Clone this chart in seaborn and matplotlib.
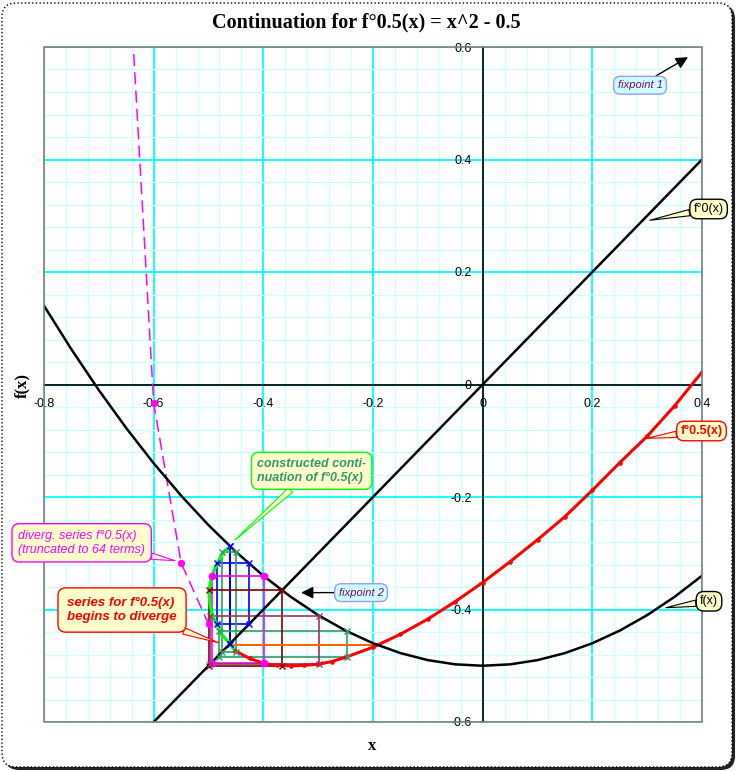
import matplotlib
matplotlib.use("Agg")
import matplotlib.pyplot as plt
from matplotlib.patches import FancyBboxPatch, Rectangle
from matplotlib.transforms import IdentityTransform
import numpy as np
import seaborn as sns

fx_x = [-0.80, -0.75, -0.70, -0.65, -0.60, -0.55, -0.50, -0.45, -0.40, -0.35, -0.30, -0.25,
        -0.20, -0.15, -0.10, -0.05, 0.00, 0.05, 0.10, 0.15, 0.20, 0.25, 0.30, 0.35, 0.40]
fx_y = [0.14, 0.0625, -0.01, -0.0775, -0.14, -0.1975, -0.25, -0.2975, -0.34, -0.3775, -0.41, -0.4375,
        -0.46, -0.4775, -0.49, -0.4975, -0.50, -0.4975, -0.49, -0.4775, -0.46, -0.4375, -0.41, -0.3775, -0.34]

# f°0(x) = x
ident_x = [-0.6, 0.4]
ident_y = [-0.6, 0.4]

# f°0.5(x) series values
half_x = [-0.4517, -0.425, -0.40, -0.375, -0.35, -0.325, -0.30, -0.275, -0.25, -0.20, -0.15, -0.10,
          -0.05, 0.00, 0.05, 0.10, 0.15, 0.20, 0.25, 0.30, 0.35, 0.40]
half_y = [-0.4732, -0.487, -0.4956, -0.4995, -0.5, -0.4992, -0.4974, -0.4925, -0.485, -0.467, -0.444, -0.417,
          -0.386, -0.352, -0.315, -0.276, -0.235, -0.188, -0.139, -0.092, -0.038, 0.022]

# constructed continuation (parametric, top to bottom)
cont_x = [-0.4608, -0.473, -0.485, -0.4941, -0.4991, -0.4972, -0.493, -0.485, -0.4759, -0.4608, -0.4517]
cont_y = [-0.2884, -0.2983, -0.3196, -0.3417, -0.3662, -0.3911, -0.4107, -0.4267, -0.4444, -0.4604, -0.4732]

# divergent series truncated to 64 terms
div_x = [-0.65, -0.60, -0.55, -0.50]
div_y = [0.82, -0.033, -0.317, -0.426]

# construction rectangles
rect_left = [-0.4608, -0.485, -0.4756, -0.481, -0.4942, -0.50, -0.4974, -0.463]
rect_right = [-0.4608, -0.4262, -0.4498, -0.248, -0.3988, -0.366, -0.2985, -0.193]
rect_bottom = [-0.4608, -0.4262, -0.4756, -0.485, -0.4956, -0.50, -0.4974, -0.463]
rect_top = [-0.2877, -0.318, -0.2977, -0.4385, -0.341, -0.366, -0.4109, -0.463]
rect_colors = ['#0000FF', '#0000FF', '#339966', '#339966', '#FF00FF', '#800000', '#993366', '#FF6600']
rect_markers = ['x', 'x', 'x', 'x', 'o', 'x', 'x', '']

x_ticks = [-0.8, -0.6, -0.4, -0.2, 0.0, 0.2, 0.4]
x_labels = ['-0.8', '-0.6', '-0.4', '-0.2', '0', '0.2', '0.4']
y_ticks = [-0.6, -0.4, -0.2, 0.0, 0.2, 0.4, 0.6]
y_labels = ['-0.6', '-0.4', '-0.2', '0', '0.2', '0.4', '0.6']

sns.set_style("white")
plt.rcParams['font.family'] = ['Liberation Sans', 'DejaVu Sans']
plt.rcParams['text.color'] = 'black'
plt.rcParams['xtick.color'] = 'black'
plt.rcParams['ytick.color'] = 'black'

W, H = 738, 771
fig = plt.figure(figsize=(W / 100, H / 100), dpi=100)
fig.patch.set_facecolor('white')

# outer rounded frame with shadow
shadow = FancyBboxPatch((5, 1), W - 8, H - 6, boxstyle='round,pad=0,rounding_size=14',
                        transform=IdentityTransform(), fc='#222222', ec='none', zorder=-3)
frame = FancyBboxPatch((2, 4), W - 8, H - 7, boxstyle='round,pad=0,rounding_size=14',
                       transform=IdentityTransform(), fc='white', ec='black', ls=':', lw=1, zorder=-2)
fig.patches.extend([shadow, frame])

ax = fig.add_axes([44 / W, 1 - 722 / H, 658 / W, 675 / H])
ax.set_xlim(-0.8, 0.4)
ax.set_ylim(-0.6, 0.6)
ax.set_facecolor('white')

# grid
ax.set_xticks(np.round(np.arange(-0.8, 0.401, 0.04), 2), minor=True)
ax.set_yticks(np.round(np.arange(-0.6, 0.601, 0.04), 2), minor=True)
ax.grid(which='minor', color='#CCFFFF', lw=0.9, zorder=0)
ax.grid(which='major', color='#00FFFF', lw=1.3, zorder=0)
ax.set_axisbelow(True)

ax.set_xticks(x_ticks)
ax.set_xticklabels(x_labels)
ax.set_yticks(y_ticks)
ax.set_yticklabels(y_labels)
ax.tick_params(which='minor', length=0)
ax.tick_params(which='major', direction='out', length=5, width=1, color='black',
               labelsize=9, labelcolor='black')
ax.tick_params(axis='x', pad=5)
ax.tick_params(axis='y', pad=3)

ax.spines['left'].set_position(('data', 0))
ax.spines['bottom'].set_position(('data', 0))
for s in ['left', 'bottom']:
    ax.spines[s].set_color('black')
    ax.spines[s].set_linewidth(1.2)
    ax.spines[s].set_zorder(1)
for s in ['top', 'right']:
    ax.spines[s].set_visible(False)
ax.add_patch(Rectangle((0, 0), 1, 1, transform=ax.transAxes, fill=False, ec='#808080',
                       lw=1.2, clip_on=False, zorder=5))

# construction rectangles
for l, r, b, t, c, m in zip(rect_left, rect_right, rect_bottom, rect_top, rect_colors, rect_markers):
    xs = [l, r, r, l, l]
    ys = [t, t, b, b, t]
    ax.plot(xs, ys, color=c, lw=1.2, zorder=2)
    if m:
        ax.plot(xs[:4], ys[:4], ls='none', marker=m, color=c, ms=4 if m == 'x' else 4.5,
                mew=1, zorder=4)

# curves
sns.lineplot(x=div_x, y=div_y, ax=ax, color='#FF00FF', lw=1.1, linestyle=(0, (8, 4)),
             marker='o', markersize=4.5, markeredgecolor='#FF00FF', sort=False, estimator=None, zorder=3)
sns.lineplot(x=cont_x, y=cont_y, ax=ax, color='#00FF00', lw=2.4, sort=False, estimator=None, zorder=3)
sns.lineplot(x=half_x, y=half_y, ax=ax, color='#FF0000', lw=2.2, marker='o', markersize=2.5,
             markeredgecolor='#FF0000', sort=False, estimator=None, zorder=3)
sns.lineplot(x=fx_x, y=fx_y, ax=ax, color='black', lw=1.8, sort=False, estimator=None, zorder=3)
sns.lineplot(x=ident_x, y=ident_y, ax=ax, color='black', lw=1.8, sort=False, estimator=None, zorder=3)

# callouts
def callout(text, xy, xytext, ec, tc, fc='#FFFFCC', weight='normal', style='normal', size=8.5, pad=0.3):
    ax.annotate(text, xy=xy, xytext=xytext, ha='center', va='center', fontsize=size,
                color=tc, fontweight=weight, fontstyle=style, annotation_clip=False, zorder=6,
                multialignment='left',
                bbox=dict(boxstyle=f'round,pad={pad},rounding_size=0.6', fc=fc, ec=ec, lw=1),
                arrowprops=dict(arrowstyle='wedge,tail_width=0.5,shrink_factor=0.5',
                                fc=fc, ec=ec, lw=0.8, shrinkA=0, shrinkB=0))

callout('f°0(x)', (0.305, 0.292), (0.412, 0.312), 'black', 'black', size=9)
callout('f°0.5(x)', (0.300, -0.0956), (0.399, -0.0827), '#FF0000', '#FF0000', weight='bold', size=9)
callout('f(x)', (0.334, -0.3968), (0.4128, -0.3854), 'black', 'black', size=9)
callout('constructed conti-\nnuation of f°0.5(x)', (-0.4517, -0.2764), (-0.3118, -0.1535),
        '#00FF00', '#339966', weight='bold', style='italic', size=9, pad=0.45)
callout('diverg. series f°0.5(x)\n(truncated to 64 terms)', (-0.5611, -0.3132), (-0.7313, -0.2815),
        '#FF00FF', '#FF00FF', style='italic', size=9, pad=0.5)
callout('series for f°0.5(x)\nbegins to diverge', (-0.4821, -0.459), (-0.6577, -0.4009),
        '#FF0000', '#FF0000', weight='bold', style='italic', size=9.5, pad=0.7)

fp_box = dict(boxstyle='round,pad=0.35,rounding_size=0.6', fc='#CCFFFF', ec='#9999FF', lw=1)
fp_arrow = dict(arrowstyle='-|>,head_length=0.9,head_width=0.45', color='black', lw=1, shrinkA=0, shrinkB=0)
ax.annotate('fixpoint 1', xy=(0.3745, 0.582), xytext=(0.287, 0.532), ha='center', va='center',
            fontsize=8, color='#800080', fontstyle='italic', bbox=fp_box, arrowprops=fp_arrow, zorder=6)
ax.annotate('fixpoint 2', xy=(-0.331, -0.370), xytext=(-0.2218, -0.370), ha='center', va='center',
            fontsize=8, color='#800080', fontstyle='italic', bbox=fp_box, arrowprops=fp_arrow, zorder=6)

fig.text(366 / W, 1 - 22 / H, 'Continuation for f°0.5(x) = x^2 - 0.5', ha='center', va='center',
         fontsize=14.5, fontweight='bold', color='black', family=['Liberation Serif', 'DejaVu Serif'])
fig.text(372 / W, 1 - 746 / H, 'x', ha='center', va='center', fontsize=12, fontweight='bold',
         color='black', family=['Liberation Serif', 'DejaVu Serif'])
fig.text(22 / W, 1 - 385 / H, 'f(x)', ha='center', va='center', fontsize=12, fontweight='bold',
         rotation=90, color='black', family=['Liberation Serif', 'DejaVu Serif'])

fig.savefig('out.png', dpi=100, facecolor='white')
